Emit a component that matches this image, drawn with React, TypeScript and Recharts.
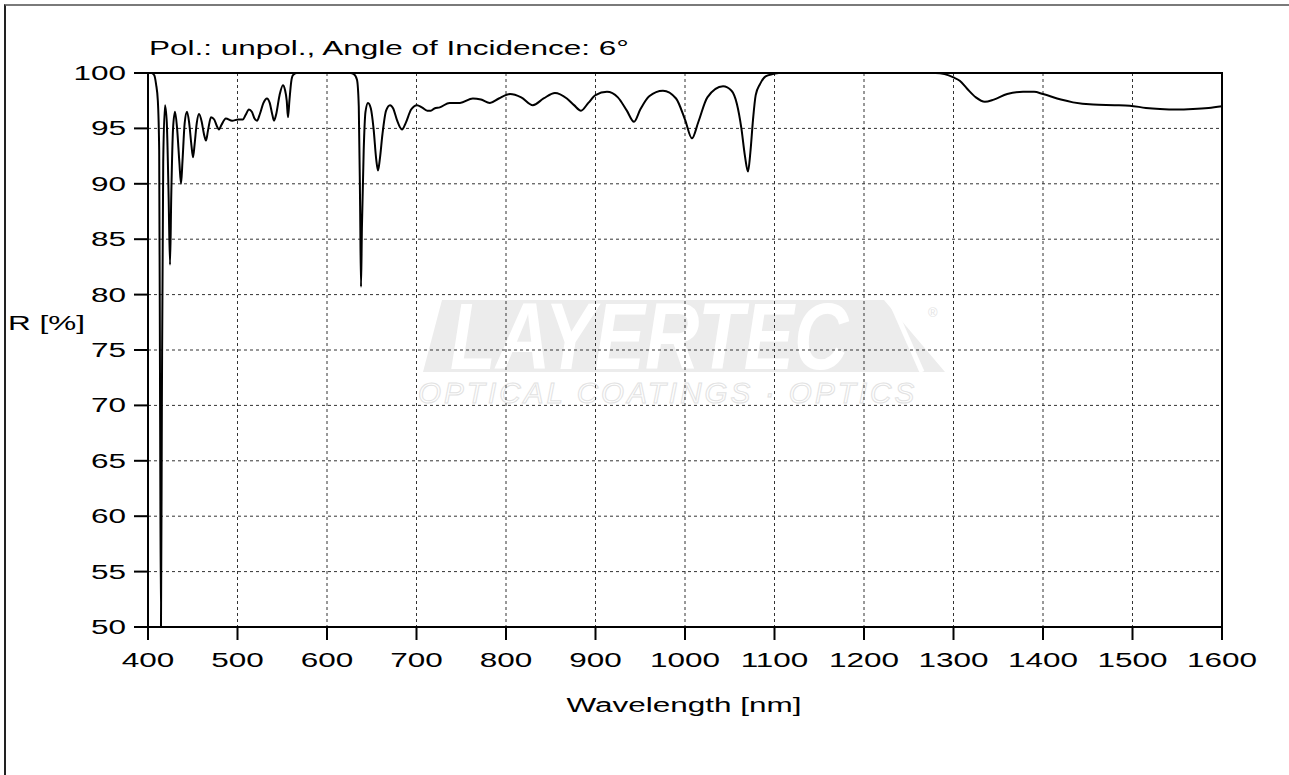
import React from 'react';
import { LineChart, Line, XAxis, YAxis, CartesianGrid, ReferenceArea } from 'recharts';

// wavelength [nm] and reflectance R [%]
const wavelengths = [
  400, 404, 407, 409, 411, 412.5, 413.5, 414.5, 415.5, 417, 419, 421, 423, 424.6, 426, 428,
  430.2, 432.5, 435, 436.9, 438.5, 441, 443.6, 446, 448.5, 450.3, 452, 454.5, 457, 460, 462.5,
  464.8, 467, 470.4, 474, 477, 479.3, 482, 487, 494, 500.6, 506, 509, 512.8, 516, 519, 521.8,
  525, 529, 532.9, 536, 539, 540.8, 543, 547, 550.8, 553, 555, 556.4, 558, 560, 562, 566,
  626, 630, 633.5, 635.5, 637, 638, 639, 641, 643, 645.8, 649, 652, 655, 657, 659, 662, 666,
  670.4, 674, 678, 683.8, 688, 694, 700.6, 706, 712, 716, 720, 726, 737, 748.6, 763, 772, 782,
  792, 804.5, 817, 830, 842, 854.7, 868, 876, 883.8, 892, 900, 912.8, 925, 935, 943, 950, 960,
  975.4, 990, 1000, 1007.8, 1015, 1025, 1042.5, 1052, 1058, 1063, 1067, 1070.4, 1073, 1076,
  1079, 1083.8, 1090, 1098, 1105, 1280, 1290, 1300, 1307, 1315, 1325, 1335, 1345, 1360,
  1377.7, 1390, 1400, 1420, 1433.5, 1456, 1480, 1497, 1515, 1530.7, 1550, 1567.6, 1585, 1600,
];

const reflectance = [
  100, 100, 99.8, 99.0, 97.5, 93, 70, 50, 70, 92, 97.1, 95.5, 89, 82.7, 89, 95,
  96.5, 95, 92, 90, 92, 95.5, 96.5, 95.5, 93.5, 92.4, 93.5, 95.5, 96.3, 95.6, 94.5,
  93.9, 94.8, 96, 95.8, 95.2, 94.9, 95.3, 95.9, 95.7, 95.8, 95.8, 96.2, 96.7, 96.5, 95.9, 95.7,
  96.3, 97.3, 97.7, 97.3, 96.2, 95.7, 96.2, 98, 98.9, 98.5, 97.5, 96.0, 97.5, 99.2, 99.8, 100,
  100, 99.9, 99.4, 97, 88, 80.7, 86, 93, 96.5, 97.3, 96.8, 95, 92.2, 91.2, 92.2, 94.5, 96.6,
  97.1, 96.8, 95.8, 94.9, 95.5, 96.7, 97.1, 96.9, 96.6, 96.6, 96.8, 96.9, 97.3, 97.3, 97.7, 97.6, 97.3,
  97.7, 98.1, 97.8, 97.1, 97.7, 98.2, 97.7, 97.1, 96.6, 97.3, 98.0, 98.3, 97.8, 96.6, 95.6, 96.7, 97.9,
  98.4, 97.7, 95.8, 94.1, 95.6, 97.8, 98.8, 98.4, 97.2, 95.0, 92.5, 91.1, 92.8, 95.8,
  98.0, 99.0, 99.7, 99.9, 100, 100, 99.9, 99.6, 99.3, 98.6, 97.8, 97.4, 97.6, 98.1,
  98.3, 98.3, 98.1, 97.6, 97.35, 97.15, 97.1, 97.05, 96.85, 96.75, 96.7, 96.75, 96.85, 97.0,
];

const xTicks = [400, 500, 600, 700, 800, 900, 1000, 1100, 1200, 1300, 1400, 1500, 1600];
const yTicks = [50, 55, 60, 65, 70, 75, 80, 85, 90, 95, 100];

const data = wavelengths.map((nm, i) => ({ nm, r: reflectance[i] }));

const FONT = '"Liberation Sans", Arial, sans-serif';
const SX = 1.5;

const XTick = (props: any) => {
  const { x, y, payload } = props;
  return (
    <text transform={`translate(${x},${y + 27}) scale(${SX},1)`} textAnchor="middle"
      fontSize={21} fontFamily={FONT} fill="#000">{payload.value}</text>
  );
};

const YTick = (props: any) => {
  const { x, y, payload } = props;
  return (
    <text transform={`translate(${x},${y + 7}) scale(${SX},1)`} textAnchor="end"
      fontSize={21} fontFamily={FONT} fill="#000">{payload.value}</text>
  );
};

const Backdrop = () => (
  <svg width={1289} height={775} style={{ position: 'absolute', left: 0, top: 0 }}>
    {/* watermark */}
    <polygon points="442,300 884,300 945,372 423,372" fill="#ececec" />
    <text transform="translate(450,369) scale(0.8,1)" fontSize={94} fontWeight={900}
      fontStyle="italic" fontFamily={FONT} fill="#fff">LAYERTEC</text>
    <line x1={893} y1={306} x2={922} y2={372} stroke="#fff" strokeWidth={5} />
    <text x={928} y={317} fontSize={13} fontFamily={FONT} fill="#e4e4e4">®</text>
    <text transform="translate(418,403) scale(1.02,1)" fontSize={29} fontStyle="italic"
      fontFamily={FONT} fill="none" stroke="#e2e2e2" strokeWidth={1} letterSpacing={3}>
      OPTICAL COATINGS · OPTICS
    </text>
    {/* titles */}
    <text transform={`translate(149,55) scale(${SX},1)`} fontSize={21} fontFamily={FONT} fill="#000">
      Pol.: unpol., Angle of Incidence: 6°
    </text>
    <text transform={`translate(8,330) scale(${SX},1)`} fontSize={21} fontFamily={FONT} fill="#000">
      R [%]
    </text>
    <text transform={`translate(684,712) scale(${SX},1)`} textAnchor="middle" fontSize={21}
      fontFamily={FONT} fill="#000">Wavelength [nm]</text>
  </svg>
);

export default function App() {
  return (
    <div style={{ position: 'fixed', left: 0, top: 0, width: 1289, height: 775, overflow: 'hidden', background: '#fff' }}>
      <div style={{
        position: 'absolute', left: 4, top: 4, width: 1283, height: 800,
        borderTop: '2px solid #7a7a7a', borderRight: '2px solid #9a9a9a', borderLeft: '2px solid #222',
      }} />
      <Backdrop />
      <div style={{ position: 'absolute', left: 0, top: 0 }}>
        <LineChart width={1289} height={775} data={data}
          margin={{ top: 73, left: 0, right: 67, bottom: 0 }}>
          <CartesianGrid stroke="#333" strokeDasharray="3 3" strokeWidth={1} />
          <XAxis type="number" dataKey="nm" domain={[400, 1600]} ticks={xTicks} height={148}
            tickSize={13} tickMargin={0} tick={XTick} interval={0}
            axisLine={{ stroke: '#000', strokeWidth: 2 }} tickLine={{ stroke: '#000', strokeWidth: 2 }} />
          <YAxis type="number" domain={[50, 100]} ticks={yTicks} width={148}
            tickSize={14} tickMargin={8} tick={YTick} interval={0}
            axisLine={{ stroke: '#000', strokeWidth: 2 }} tickLine={{ stroke: '#000', strokeWidth: 2 }} />
          <ReferenceArea x1={400} x2={1600} y1={50} y2={100} fill="none" stroke="#000" strokeWidth={2} />
          <Line type="monotone" dataKey="r" stroke="#000" strokeWidth={2} dot={false}
            isAnimationActive={false} />
        </LineChart>
      </div>
    </div>
  );
}
